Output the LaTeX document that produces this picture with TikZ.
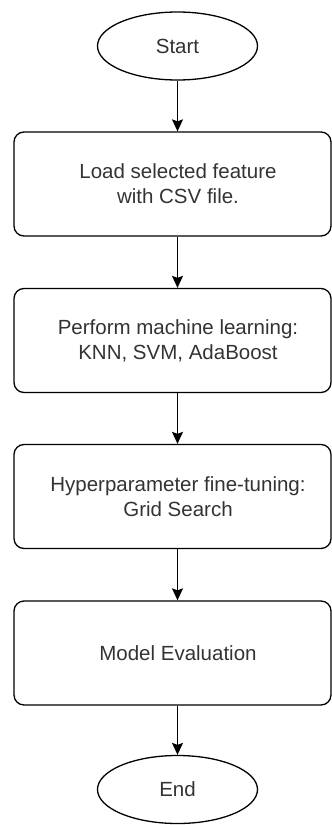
\documentclass[tikz,border=0pt]{standalone}
\usepackage{fontspec}
\setmainfont{Liberation Sans}
\usetikzlibrary{shapes.geometric,arrows.meta}
\definecolor{txtgray}{HTML}{333333}
\tikzset{
  terminal/.style={ellipse, draw=black, line width=1.3pt, minimum width=160pt,
    minimum height=68pt, inner sep=0pt, font=\fontsize{20.5}{25}\selectfont,
    text=txtgray},
  stepbox/.style={rectangle, rounded corners=10pt, draw=black, line width=1.3pt,
    minimum width=317pt, minimum height=104pt, inner sep=0pt},
  steptext/.style={align=center, font=\fontsize{20.5}{25}\selectfont,
    text=txtgray, inner sep=0pt},
  flow/.style={draw=black, line width=1.3pt,
    -{Stealth[length=12pt,width=11pt,inset=2pt]}}
}
\begin{document}
\begin{tikzpicture}[x=1pt,y=-1pt]
\useasboundingbox (0,0) rectangle (332,825);

% start / end terminals
\node[terminal] (start) at (177.5,46) {Start};
\node[terminal] (end) at (177.5,789.5) {End};

% process steps
\node[stepbox] (b1) at (172.5,184) {};
\node[steptext] (t1) at (178,184) {Load selected feature\\with CSV file.};
\node[stepbox] (b2) at (172.5,340.5) {};
\node[steptext] (t2) at (178,340.5) {Perform machine learning:\\KNN, SVM, AdaBoost};
\node[stepbox] (b3) at (172.5,496.5) {};
\node[steptext] (t3) at (178,496.5) {Hyperparameter fine-tuning:\\Grid Search};
\node[stepbox] (b4) at (172.5,653) {};
\node[steptext] (t4) at (178,653) {Model Evaluation};

% connectors
\draw[flow] (start.south) -- (start.south |- b1.north);
\draw[flow] (start.south |- b1.south) -- (start.south |- b2.north);
\draw[flow] (start.south |- b2.south) -- (start.south |- b3.north);
\draw[flow] (start.south |- b3.south) -- (start.south |- b4.north);
\draw[flow] (start.south |- b4.south) -- (end.north);
\end{tikzpicture}
\end{document}
